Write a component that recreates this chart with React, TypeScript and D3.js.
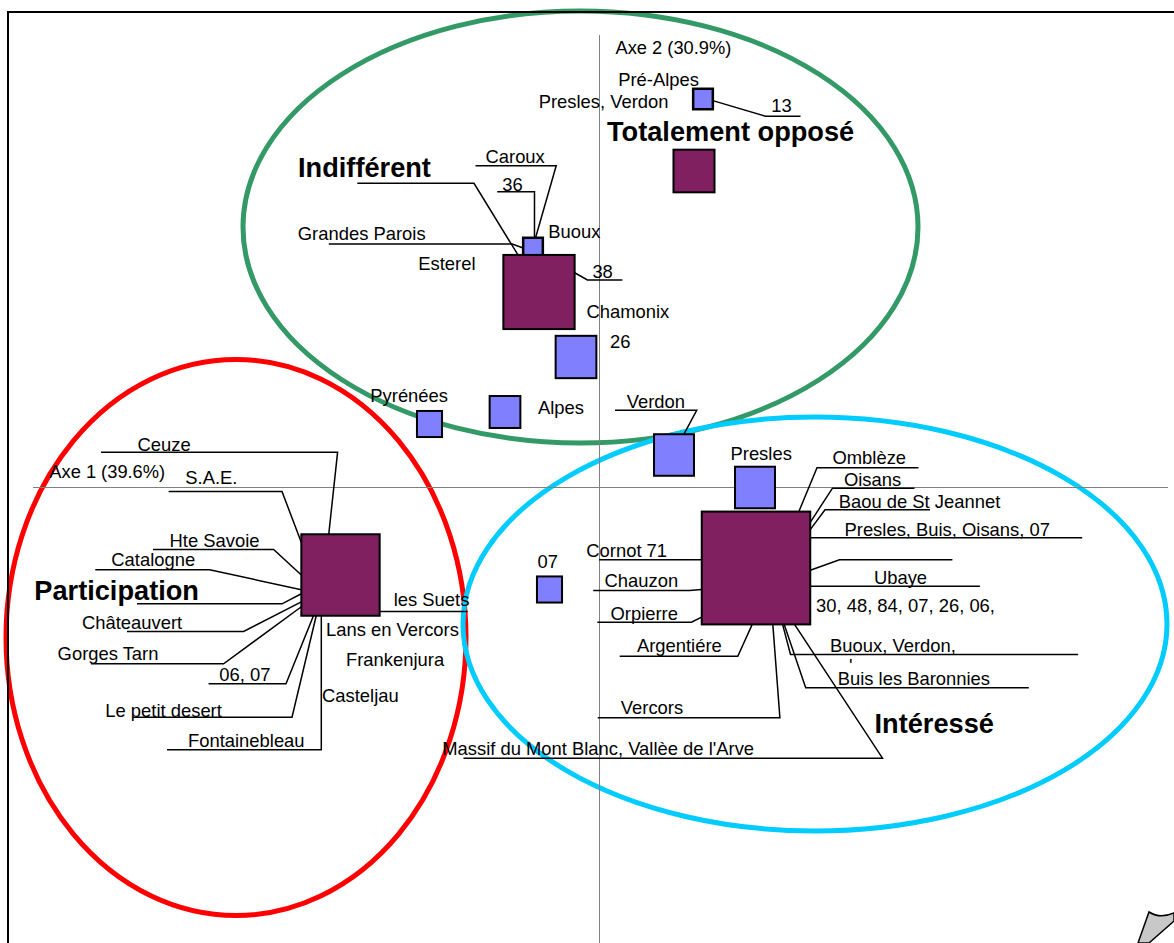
import React from "react";
import * as d3 from "d3";

const width = 1174;
const height = 943;

// modalités d'attitude (carrés violets)
const modalities = ["Totalement opposé", "Indifférent", "Participation", "Intéressé"];
const modAxis1 = [0.189, -0.121, -0.518, 0.313];
const modAxis2 = [0.633, 0.391, -0.175, -0.161];
const modMass = [13.9, 42.0, 50.7, 97.3];

// sites / régions (carrés bleus)
const sites = ["Pré-Alpes", "Buoux", "Chamonix", "Alpes", "Pyrénées", "Verdon", "Presles", "07"];
const siteAxis1 = [0.207, -0.133, -0.047, -0.189, -0.34, 0.149, 0.311, -0.1];
const siteAxis2 = [0.777, 0.479, 0.261, 0.151, 0.127, 0.065, 0.0, -0.204];
const siteMass = [3.2, 3.2, 13.7, 7.8, 5.2, 13.2, 13.2, 5.2];

// groupes entourés
const groups = ["Indifférent / Totalement opposé", "Participation", "Intéressé"];
const groupAxis1 = [-0.038, -0.727, 0.431];
const groupAxis2 = [0.521, -0.3, -0.273];
const groupRadius1 = [0.675, 0.46, 0.704];
const groupRadius2 = [0.432, 0.556, 0.414];
const groupColors = ["#339966", "#FF0000", "#00CCFF"];

const axisLabels = ["Axe 1 (39.6%)", "Axe 2 (30.9%)"];

// étiquettes : décalages (px) depuis le centre du carré, soulignement, point d'accroche
type Lab = {
  t: string;
  at: string;
  dx?: number;
  dy?: number;
  bold?: boolean;
  end?: boolean;
  u?: [number, number, number];
  to?: [number, number];
};

const labels: Lab[] = [
  { t: "Omblèze", at: "Intéressé", dx: 76.5, dy: -104.2, u: [61, 162.5, -100.2], to: [0.79, -1] },
  { t: "Oisans", at: "Intéressé", dx: 87.9, dy: -82.5, u: [76.5, 158.5, -79.8], to: [1, -0.81] },
  { t: "Baou de St Jeannet", at: "Intéressé", dx: 82.7, dy: -59.8, u: [69, 174, -58.2], to: [1, -0.68] },
  { t: "Presles, Buis, Oisans, 07", at: "Intéressé", dx: 88.5, dy: -31.8, u: [54.25, 326.2, -30.2] },
  { t: "", at: "Intéressé", u: [83.5, 196.4, -8.2], to: [1, 0.04] },
  { t: "Ubaye", at: "Intéressé", dx: 117.9, dy: 15.8, u: [54.25, 223.9, 18.2] },
  { t: "30, 48, 84, 07, 26, 06,", at: "Intéressé", dx: 60, dy: 44.2 },
  { t: "Buoux, Verdon,", at: "Intéressé", dx: 74.1, dy: 84.2, u: [34.5, 322.1, 86.5], to: [0.49, 1] },
  { t: "'", at: "Intéressé", dx: 93, dy: 104 },
  { t: "Buis les Baronnies", at: "Intéressé", dx: 81.7, dy: 116.5, u: [49.7, 272.8, 119.8], to: [0.52, 1] },
  { t: "Massif du Mont Blanc, Vallèe de l'Arve", at: "Intéressé", dx: -313.8, dy: 186.8, u: [-292.5, 126.5, 190.2], to: [0.71, 1] },
  { t: "Intéressé", at: "Intéressé", dx: 118.5, dy: 165.2, bold: true },
  { t: "Vercors", at: "Intéressé", dx: -135.2, dy: 145.8, u: [-158.3, 23.9, 149.8], to: [0.31, 1] },
  { t: "Argentiére", at: "Intéressé", dx: -119.1, dy: 84.2, u: [-136.3, -18.2, 88.2], to: [-0.07, 1] },
  { t: "Cornot 71", at: "Intéressé", dx: -169.7, dy: -11.5, u: [-156.9, -54.25, -8.2] },
  { t: "Chauzon", at: "Intéressé", dx: -151.5, dy: 18.5, u: [-162.8, -66.5, 22.5], to: [-1, 0.38] },
  { t: "Orpierre", at: "Intéressé", dx: -145.5, dy: 51.8, u: [-158.7, -64.6, 54.2], to: [-1, 0.87] },

  { t: "Ceuze", at: "Participation", dx: -202.9, dy: -124.5, u: [-239.5, -2.9, -122.8], to: [-0.3, -1] },
  { t: "S.A.E.", at: "Participation", dx: -155.2, dy: -91.2, u: [-171.9, -58.5, -83.5], to: [-1, -0.8] },
  { t: "Hte Savoie", at: "Participation", dx: -170.9, dy: -28.5, u: [-187.5, -66.9, -25.5], to: [-1, 0] },
  { t: "Catalogne", at: "Participation", dx: -229.2, dy: -8.8, u: [-245.2, -130.9, -5.2], to: [-1, 0.36] },
  { t: "Participation", at: "Participation", dx: -306.2, dy: 24.8, bold: true },
  { t: "", at: "Participation", u: [-203.5, -58.5, 28.8], to: [-1, 0.46] },
  { t: "Châteauvert", at: "Participation", dx: -258.5, dy: 53.8, u: [-213.5, -96.9, 56.5], to: [-1, 0.66] },
  { t: "Gorges Tarn", at: "Participation", dx: -282.9, dy: 84.8, u: [-249.5, -116.9, 88.8], to: [-1, 0.78] },
  { t: "06, 07", at: "Participation", dx: -121.2, dy: 105.5, u: [-131.9, -54.5, 108.8], to: [-0.69, 1] },
  { t: "Le petit desert", at: "Participation", dx: -235.2, dy: 141.5, u: [-207.5, -48.5, 142.2], to: [-0.62, 1] },
  { t: "Fontainebleau", at: "Participation", dx: -152.5, dy: 171.5, u: [-173.5, -19.2, 174.8], to: [-0.49, 1] },
  { t: "les Suets", at: "Participation", dx: 53.2, dy: 30.5, u: [39.15, 127.2, 36.5] },
  { t: "Lans en Vercors", at: "Participation", dx: -14.5, dy: 60.5 },
  { t: "Frankenjura", at: "Participation", dx: 5.5, dy: 90.5 },
  { t: "Casteljau", at: "Participation", dx: -18.5, dy: 127.2 },

  { t: "Indifférent", at: "Indifférent", dx: -241, dy: -114.7, bold: true },
  { t: "", at: "Indifférent", u: [-181.7, -65, -108.7], to: [-0.59, -1] },
  { t: "Esterel", at: "Indifférent", dx: -120.7, dy: -22.4 },
  { t: "38", at: "Indifférent", dx: 53.4, dy: -13.7, u: [48.4, 83.4, -12.1], to: [1, -0.52] },

  { t: "Buoux", at: "Buoux", dx: 15.2, dy: -9.65 },
  { t: "Caroux", at: "Buoux", dx: -47.5, dy: -85, u: [-57.5, 23.2, -82.35], to: [0.26, -1] },
  { t: "36", at: "Buoux", dx: -30.8, dy: -57.35, u: [-35.8, 1.5, -56.35], to: [0.15, -1] },
  { t: "Grandes Parois", at: "Buoux", dx: -235.2, dy: -8.05, u: [-204.2, -20.8, -4.05], to: [-1, 0] },

  { t: "Pré-Alpes", at: "Pré-Alpes", dx: -84.8, dy: -13.5 },
  { t: "Presles, Verdon", at: "Pré-Alpes", dx: -34.5, dy: 9.2, end: true },
  { t: "13", at: "Pré-Alpes", dx: 68.2, dy: 13.2, u: [62.5, 97.5, 17.2], to: [1, 0.16] },

  { t: "Totalement opposé", at: "Totalement opposé", dx: -87, dy: -30.5, bold: true },
  { t: "Chamonix", at: "Chamonix", dx: 10.4, dy: -39 },
  { t: "26", at: "Chamonix", dx: 34, dy: -9 },
  { t: "Verdon", at: "Verdon", dx: -47.3, dy: -47.35, u: [-59, 22.7, -44.65], to: [0.5, -1] },
  { t: "Alpes", at: "Alpes", dx: 32.95, dy: 1.95 },
  { t: "Pyrénées", at: "Pyrénées", dx: -59.2, dy: -21.8 },
  { t: "Presles", at: "Presles", dx: -24.5, dy: -27.7 },
  { t: "07", at: "07", dx: -12, dy: -22 },
];

const x = d3.scaleLinear().domain([-1, 1]).range([99.5, 1099.5]);
const y = d3.scaleLinear().domain([-1, 1]).range([987.5, -12.5]);
const side = d3.scaleSqrt().domain([0, 100]).range([0, 110]);

const font = "'Liberation Sans', Arial, sans-serif";

type Pt = { name: string; cx: number; cy: number; hw: number; hh: number; fill: string };

const points: Pt[] = [
  ...sites.map((name, i) => ({
    name,
    cx: x(siteAxis1[i]),
    cy: y(siteAxis2[i]),
    hw: side(siteMass[i]) / 2,
    hh: (side(siteMass[i]) / 2) * 1.04,
    fill: "#8080FF",
  })),
  ...modalities.map((name, i) => ({
    name,
    cx: x(modAxis1[i]),
    cy: y(modAxis2[i]),
    hw: side(modMass[i]) / 2,
    hh: (side(modMass[i]) / 2) * 1.04,
    fill: "#802060",
  })),
];
const byName = new Map(points.map((p) => [p.name, p]));
const line = d3.line();

function leader(l: Lab, p: Pt) {
  if (!l.u) return null;
  const [u1, u2, uy] = l.u;
  const a: [number, number] = [p.cx + u1, p.cy + uy];
  const b: [number, number] = [p.cx + u2, p.cy + uy];
  if (!l.to) return line([a, b]);
  const t: [number, number] = [p.cx + l.to[0] * p.hw, p.cy + l.to[1] * p.hh];
  const nearB = Math.abs(b[0] - t[0]) < Math.abs(a[0] - t[0]);
  return nearB ? line([a, b, t]) : line([b, a, t]);
}

export default function App() {
  const x0 = x(0);
  const y0 = y(0);
  return (
    <svg
      width={width}
      height={height}
      style={{ position: "absolute", left: 0, top: 0, background: "#fff" }}
      fontFamily={font}
    >
      <rect width={width} height={height} fill="#fff" />
      {groups.map((g, i) => (
        <ellipse
          key={g}
          cx={x(groupAxis1[i])}
          cy={y(groupAxis2[i])}
          rx={x(groupRadius1[i]) - x(0)}
          ry={y(0) - y(groupRadius2[i])}
          fill="none"
          stroke={groupColors[i]}
          strokeWidth={5}
        />
      ))}
      <line x1={x0} x2={x0} y1={35} y2={height} stroke="#808080" strokeWidth={1} />
      <line x1={33} x2={1168} y1={y0} y2={y0} stroke="#808080" strokeWidth={1} />
      <text x={x0 + 16} y={54.3} fontSize={18.3}>{axisLabels[1]}</text>
      <text x={49.3} y={y0 - 9.2} fontSize={18.3}>{axisLabels[0]}</text>

      {labels.map((l, i) => {
        const p = byName.get(l.at)!;
        const d = leader(l, p);
        return d ? <path key={i} d={d} fill="none" stroke="#000" strokeWidth={1.5} /> : null;
      })}

      {points.map((p) => (
        <rect
          key={p.name}
          x={p.cx - p.hw}
          y={p.cy - p.hh}
          width={p.hw * 2}
          height={p.hh * 2}
          fill={p.fill}
          stroke="#000"
          strokeWidth={p.hw < 12 ? 2.5 : 2}
        />
      ))}

      {labels.map((l, i) => {
        if (!l.t) return null;
        const p = byName.get(l.at)!;
        return (
          <text
            key={i}
            x={p.cx + (l.dx ?? 0)}
            y={p.cy + (l.dy ?? 0)}
            fontSize={l.bold ? 27.2 : 18.4}
            fontWeight={l.bold ? "bold" : "normal"}
            textAnchor={l.end ? "end" : "start"}
          >
            {l.t}
          </text>
        );
      })}

      <path d="M8,943 L8,12 L1174,12" fill="none" stroke="#000" strokeWidth={2} />
      <path
        d="M1138,943 L1149,912 Q1160,919 1174,913 L1174,921 L1149,943 Z"
        fill="#c8c8c8"
        stroke="#000"
        strokeWidth={1.5}
      />
    </svg>
  );
}
